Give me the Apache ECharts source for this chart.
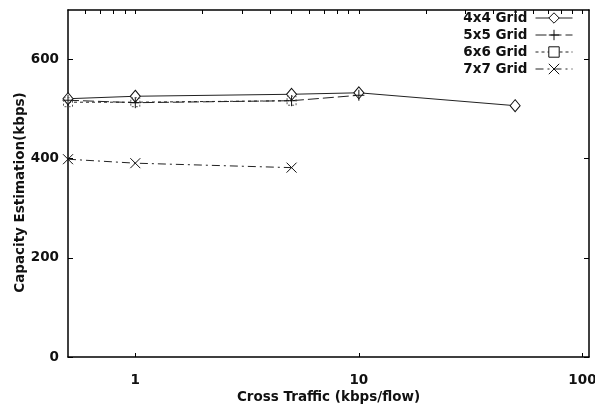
<!DOCTYPE html>
<html>
<head>
<meta charset="utf-8">
<script src="https://cdn.jsdelivr.net/npm/echarts@6/dist/echarts.min.js"></script>
<style>
  html, body { margin: 0; padding: 0; background: #fff; }
  #chart { width: 595px; height: 411px; }
</style>
</head>
<body>
<div id="chart"></div>
<script>
// Cross traffic rates (kbps/flow) and capacity estimates per grid size
const traffic4 = [0.5, 1, 5, 10, 50];
const grid4 = [521, 526, 530, 533, 507];
const traffic5 = [0.5, 1, 5, 10];
const grid5 = [518, 513, 517, 528];
const traffic6 = [0.5, 1, 5];
const grid6 = [514, 514, 517];
const traffic7 = [0.5, 1, 5];
const grid7 = [399, 391, 382];

const seriesNames = ['4x4 Grid', '5x5 Grid', '6x6 Grid', '7x7 Grid'];
const xMajorTicks = [1, 10, 100];
const xMinorTicks = [0.6, 0.7, 0.8, 0.9, 1, 2, 3, 4, 5, 6, 7, 8, 9, 10,
  20, 30, 40, 50, 60, 70, 80, 90, 100];
const yTicks = [0, 200, 400, 600];

const pairs = (xs, ys) => xs.map((x, i) => [x, ys[i]]);

const FONT = '"DejaVu Sans", Verdana, sans-serif';
const FSIZE = 13.5;
const INK = '#000';
const TEXT = '#111';

const PLUS = 'path://M5,0L5,10M0,5L10,5';
const CROSS = 'path://M0,0L10,10M10,0L0,10';

const baseSeries = (name, data, dash, symbol, size, extra) => Object.assign({
  name: name,
  type: 'line',
  data: data,
  clip: false,
  symbol: symbol,
  symbolSize: size,
  showAllSymbol: true,
  lineStyle: { color: '#222', width: 1, type: dash },
  itemStyle: { color: '#fff', borderColor: '#111', borderWidth: 1 },
  emphasis: { disabled: true },
  animation: false
}, extra || {});

const chart = echarts.init(document.getElementById('chart'), null, { renderer: 'canvas' });

chart.setOption({
  backgroundColor: '#fff',
  animation: false,
  textStyle: { fontFamily: FONT },
  grid: { left: 68, right: 6, top: 10, bottom: 54, containLabel: false, outerBoundsMode: 'none' },
  legend: {
    data: seriesNames,
    orient: 'vertical',
    right: 22,
    top: 11,
    padding: 0,
    itemGap: 3,
    itemWidth: 37,
    itemHeight: 13,
    align: 'right',
    itemStyle: { color: '#fff', borderColor: '#111', borderWidth: 1 },
    lineStyle: { width: 1 },
    textStyle: { fontFamily: FONT, fontWeight: 'bold', fontSize: FSIZE, lineHeight: 14, color: TEXT, padding: [0, 3, 0, 0] },
    selectedMode: false
  },
  xAxis: [{
    type: 'log',
    logBase: 10,
    min: 0.5,
    max: 107,
    position: 'bottom',
    name: 'Cross Traffic (kbps/flow)',
    nameLocation: 'middle',
    nameGap: 33,
    nameMoveOverlap: false,
    nameTextStyle: { fontFamily: FONT, fontWeight: 'bold', fontSize: FSIZE, color: TEXT },
    axisLine: { onZero: false, lineStyle: { color: INK, width: 1.5 } },
    axisTick: { inside: true, length: 4, customValues: xMajorTicks, lineStyle: { color: INK } },
    axisLabel: { customValues: xMajorTicks, margin: 16, fontFamily: FONT, fontWeight: 'bold', fontSize: FSIZE, color: TEXT },
    splitLine: { show: false }
  }, {
    type: 'log',
    logBase: 10,
    min: 0.5,
    max: 107,
    position: 'top',
    axisLine: { onZero: false, lineStyle: { color: INK, width: 1.5 } },
    axisTick: { inside: true, length: 4, customValues: xMinorTicks, lineStyle: { color: INK } },
    axisLabel: { show: false },
    splitLine: { show: false }
  }],
  yAxis: [{
    type: 'value',
    min: 0,
    max: 700,
    position: 'left',
    name: 'Capacity Estimation(kbps)',
    nameLocation: 'middle',
    nameGap: 41,
    nameMoveOverlap: false,
    nameTextStyle: { fontFamily: FONT, fontWeight: 'bold', fontSize: FSIZE, color: TEXT, padding: [0, 18, 0, 0] },
    axisLine: { show: true, onZero: false, lineStyle: { color: INK, width: 1.5 } },
    axisTick: { inside: true, length: 5, customValues: yTicks, lineStyle: { color: INK } },
    axisLabel: { customValues: yTicks, margin: 9, fontFamily: FONT, fontWeight: 'bold', fontSize: FSIZE, color: TEXT },
    splitLine: { show: false }
  }, {
    type: 'value',
    min: 0,
    max: 700,
    position: 'right',
    axisLine: { show: true, onZero: false, lineStyle: { color: INK, width: 1.5 } },
    axisTick: { inside: true, length: 5, customValues: yTicks, lineStyle: { color: INK } },
    axisLabel: { show: false },
    splitLine: { show: false }
  }],
  series: [
    baseSeries(seriesNames[0], pairs(traffic4, grid4), 'solid', 'diamond', [10, 12]),
    baseSeries(seriesNames[1], pairs(traffic5, grid5), [11, 4], PLUS, 11),
    baseSeries(seriesNames[2], pairs(traffic6, grid6), [3, 3], 'rect', 9, {
      itemStyle: { color: 'rgba(255,255,255,0)', borderColor: '#555', borderWidth: 1, borderType: [2, 2] }
    }),
    baseSeries(seriesNames[3], pairs(traffic7, grid7), [8, 4, 2, 4], CROSS, 10)
  ]
});
</script>
</body>
</html>
